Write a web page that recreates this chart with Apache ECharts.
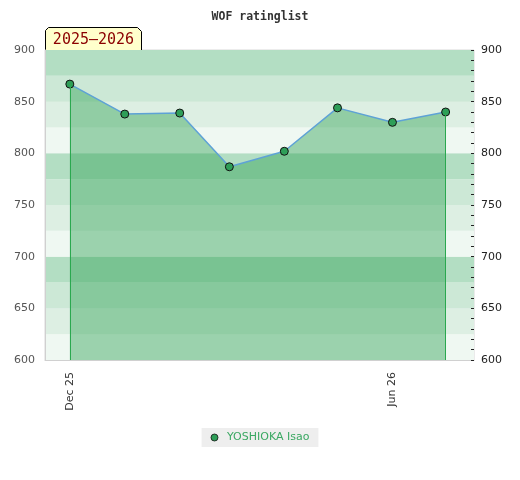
<!DOCTYPE html>
<html>
<head>
<meta charset="utf-8">
<script src="https://cdn.jsdelivr.net/npm/echarts@6/dist/echarts.min.js"></script>
<style>html,body{margin:0;padding:0;background:#fff}#c{width:520px;height:480px}</style>
</head>
<body>
<div id="c"></div>
<script>
const titleText = 'WOF ratinglist';
const seasonLabel = '2025\u20132026';
const seriesName = 'YOSHIOKA Isao';
const dates = ['2025-12-01','2026-01-01','2026-02-01','2026-03-01','2026-04-01','2026-05-01','2026-06-01','2026-07-01'];
const ratings = [867, 838, 839, 787, 802, 844, 830, 840];
const xLabelDates = ['2025-12-01','2026-06-01'];
const xRange = ['2025-11-17','2026-07-17'];
const yRange = [600, 900];
const monthNames = ['Jan','Feb','Mar','Apr','May','Jun','Jul','Aug','Sep','Oct','Nov','Dec'];

const ts = s => new Date(s + 'T00:00:00').getTime();
const data = dates.map((d, i) => [ts(d), ratings[i]]);
const first = 0, last = dates.length - 1;

const chart = echarts.init(document.getElementById('c'));
chart.setOption({
  animation: false,
  title: {
    text: titleText, left: 'center', top: 6,
    textStyle: { fontFamily: 'DejaVu Sans Mono', fontWeight: 'bold', fontSize: 11.5, color: '#333' }
  },
  grid: { left: 45, right: 46, top: 50, bottom: 120, show: true, borderColor: '#d8d8d8', borderWidth: 1 },
  legend: {
    bottom: 33, left: 'center',
    backgroundColor: '#eeeeee', padding: [4, 9, 4, 9],
    icon: 'circle', itemWidth: 7, itemHeight: 7, itemGap: 6,
    itemStyle: { borderWidth: 0.8 },
    textStyle: { color: '#3aa862', fontSize: 11, fontFamily: 'DejaVu Sans', padding: [0, 0, 0, 4] },
    data: [seriesName]
  },
  xAxis: {
    type: 'value', min: ts(xRange[0]), max: ts(xRange[1]),
    axisLine: { show: true, lineStyle: { color: '#d0d0d0' } },
    axisTick: { show: false },
    splitLine: { show: false },
    axisLabel: {
      customValues: xLabelDates.map(ts),
      rotate: 90, margin: 12, fontSize: 11, color: '#333', fontFamily: 'DejaVu Sans',
      formatter: v => { const d = new Date(v); return monthNames[d.getMonth()] + ' ' + String(d.getFullYear()).slice(2); }
    }
  },
  yAxis: [
    {
      type: 'value', position: 'left', min: yRange[0], max: yRange[1], interval: 50,
      axisLine: { show: true, lineStyle: { color: '#d0d0d0' } },
      axisTick: { show: false },
      axisLabel: { color: '#555', fontSize: 11, margin: 10, fontFamily: 'DejaVu Sans' },
      splitLine: { show: true, lineStyle: { color: 'rgba(235,240,237,0.7)', width: 1 } }
    },
    {
      type: 'value', position: 'right', min: yRange[0], max: yRange[1], interval: 50,
      axisLine: { show: false },
      axisTick: { show: true, inside: true, length: 3, lineStyle: { color: '#222' } },
      minorTick: { show: true, splitNumber: 5, length: 3, lineStyle: { color: '#222' } },
      axisLabel: { color: '#222', fontSize: 11, margin: 7, fontFamily: 'DejaVu Sans' },
      splitLine: { show: false }
    },
    {
      type: 'value', position: 'left', min: yRange[0], max: yRange[1], interval: 25,
      axisLine: { show: false }, axisTick: { show: false }, axisLabel: { show: false },
      splitLine: { show: false },
      splitArea: { show: true, areaStyle: { color: ['#eff8f2', '#ddefe3', '#cce8d6', '#b3dec3'] } }
    }
  ],
  series: [{
    name: seriesName, type: 'line', yAxisIndex: 0, data: data,
    symbol: 'circle', symbolSize: 8,
    itemStyle: { color: '#2e9e58', borderColor: '#111', borderWidth: 1 },
    lineStyle: { color: '#5ea2d6', width: 1.5 },
    areaStyle: { color: 'rgba(45,160,80,0.43)', opacity: 1, origin: 'start' },
    markLine: {
      silent: true, symbol: 'none', label: { show: false },
      lineStyle: { color: '#2aa84f', width: 1, type: 'solid' },
      data: [
        [{ coord: [data[first][0], ratings[first]] }, { coord: [data[first][0], yRange[0]] }],
        [{ coord: [data[last][0], ratings[last]] }, { coord: [data[last][0], yRange[0]] }]
      ]
    },
    z: 3
  }],
  graphic: [{
    type: 'group', left: 45, top: 27, z: 10,
    children: [
      { type: 'polygon', shape: { points: [[0, 24], [0, 3], [3, 0], [92, 0], [96, 4], [96, 24]] },
        style: { fill: '#ffffcc', stroke: '#000', lineWidth: 1 } },
      { type: 'text', x: 48, y: 13,
        style: { text: seasonLabel, fill: '#8b0000', font: '15px "DejaVu Sans Mono"', align: 'center', verticalAlign: 'middle' } }
    ]
  }]
});
</script>
</body>
</html>
